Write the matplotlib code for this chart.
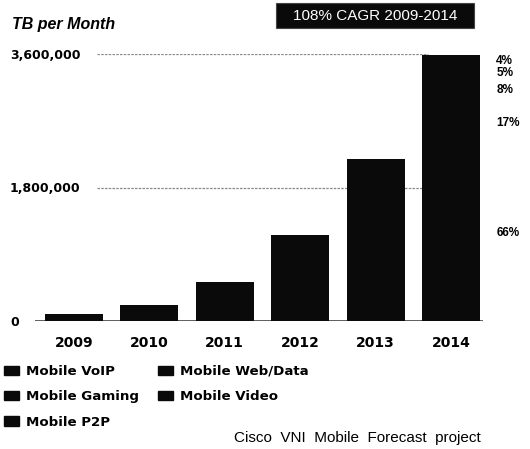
import matplotlib
matplotlib.use("Agg")
import matplotlib.pyplot as plt
from matplotlib.patches import Patch, Rectangle
import numpy as np

years = ["2009", "2010", "2011", "2012", "2013", "2014"]
totals = [90000, 216000, 530000, 1160000, 2180000, 3580000]
ytick_vals = [0, 1800000, 3600000]
ytick_labels = ["0", "1,800,000", "3,600,000"]
legend_labels = ["Mobile VoIP", "Mobile Gaming", "Mobile P2P", "Mobile Web/Data", "Mobile Video"]
# 2014 composition, bottom to top
share_names = ["Mobile Video", "Mobile Web/Data", "Mobile P2P", "Mobile Gaming", "Mobile VoIP"]
shares_2014 = [66, 17, 8, 5, 4]
title_text = "108% CAGR 2009-2014"
ylabel_text = "TB per Month"
source_text = "Cisco  VNI  Mobile  Forecast  project"

W, H = 530, 449
fig = plt.figure(figsize=(W / 100, H / 100), dpi=100)
fig.patch.set_facecolor("white")

# axes in pixel coords: left 10, right 490, bottom y=321, top y=54
ax = fig.add_axes([10 / W, (H - 321) / H, 480 / W, 267 / H])
ax.set_facecolor("none")
x = np.arange(len(years))
ax.set_xlim((10 - 74) / 75.4, (490 - 74) / 75.4)
ax.set_ylim(0, 3600000)

# gridlines
for v in ytick_vals[1:]:
    ax.hlines(v, 0.3, 4.7, colors="#8a8a8a", linestyles=(0, (2, 1)), lw=0.9, zorder=1)
ax.hlines(0, -0.52, 5.42, colors="#333333", lw=1.1, zorder=1)

ax.bar(x, totals, width=0.77, color="#0a0a0a", zorder=2, clip_on=False)

for s in ax.spines.values():
    s.set_visible(False)
ax.set_xticks(x)
ax.set_xticklabels(years, fontsize=10, fontweight="bold", family="DejaVu Sans")
ax.tick_params(axis="x", length=0, pad=11)
ax.set_yticks(ytick_vals)
ax.set_yticklabels(ytick_labels, fontsize=9, fontweight="bold", family="DejaVu Sans")
ax.tick_params(axis="y", length=0, pad=0)
for lab in ax.get_yticklabels():
    lab.set_horizontalalignment("left")

# percent labels at centers of 2014 segments
cum = np.cumsum(shares_2014)
for sh, c in zip(shares_2014, cum):
    yc = totals[-1] * (c - sh / 2) / 100.0
    ax.text(5.6, yc, f"{sh}%", fontsize=8.5, fontweight="bold", family="Liberation Sans",
            va="center", ha="left", clip_on=False)

# y label
fig.text(12 / W, 1 - 24 / H, ylabel_text, fontsize=11.5, fontweight="bold", style="italic",
         family="Liberation Sans", ha="left", va="center")

# title box
fig.patches.append(Rectangle((276 / W, 1 - 28 / H), 198 / W, 25 / H, transform=fig.transFigure,
                             facecolor="#0a0a0a", edgecolor="#444444", lw=0.8))
fig.text(375 / W, 1 - 15.5 / H, title_text, fontsize=11, color="white", family="Liberation Sans",
         ha="center", va="center")

# legend
handles = [Patch(facecolor="#0a0a0a", edgecolor="#0a0a0a") for _ in legend_labels]
leg = fig.legend(handles, legend_labels, ncol=2, loc="upper left",
                 bbox_to_anchor=(0 / W, 1 - 361 / H), frameon=False,
                 prop={"family": "DejaVu Sans", "weight": "bold", "size": 9.6},
                 handlelength=1.15, handleheight=0.7, handletextpad=0.5,
                 labelspacing=0.93, columnspacing=1.4, borderaxespad=0, borderpad=0.3)

fig.text(481 / W, 1 - 438 / H, source_text, fontsize=11, family="Liberation Sans",
         ha="right", va="center")

fig.savefig("out.png", dpi=100, facecolor="white")
